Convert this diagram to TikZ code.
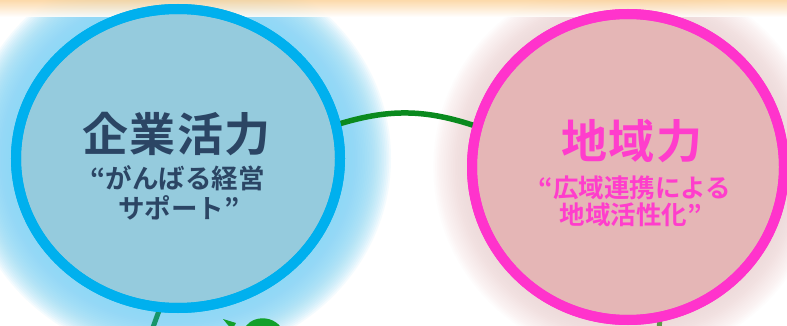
\documentclass[tikz,border=0pt]{standalone}
\usepackage{fontspec}
\usetikzlibrary{shapes.geometric}
\newfontfamily\jpfont{Noto Sans CJK JP}[BoldFont={Noto Sans CJK JP Bold}]
\newfontfamily\jptitle{Noto Sans CJK JP Bold}[LetterSpace=3]
\definecolor{lfill}{HTML}{95CBDD}
\definecolor{lring}{HTML}{00B0EE}
\definecolor{lglow}{HTML}{8AD8F6}
\definecolor{ltext}{HTML}{2B4564}
\definecolor{rfill}{HTML}{E5B6B6}
\definecolor{rring}{HTML}{FF33CC}
\definecolor{rglow}{HTML}{EFCFCF}
\definecolor{rtext}{HTML}{FF3DCC}
\definecolor{band}{HTML}{FCD6A2}
\definecolor{vine}{HTML}{0A8A1E}
\definecolor{stem}{HTML}{17956A}
\definecolor{leaf}{HTML}{12A02A}
\definecolor{stemr}{HTML}{5E9A48}
\tikzset{
  bubble/.style={ellipse, line width=10pt, inner sep=0pt, outer sep=0pt},
  title/.style={font=\jptitle\fontsize{46}{50}\selectfont, inner sep=0pt},
  sub/.style={font=\jpfont\bfseries\fontsize{26.5}{30}\selectfont, inner sep=0pt},
  subr/.style={font=\jpfont\bfseries\fontsize{25.5}{29}\selectfont, inner sep=0pt}
}
\begin{document}
\begin{tikzpicture}[x=1pt,y=-1pt]
\useasboundingbox (0,0) rectangle (787,326);
\clip (0,0) rectangle (787,326);
\fill[white] (0,0) rectangle (787,326);
% glows
\foreach \i in {1,...,30}
  \fill[lglow, opacity=0.085] (178,158.5) ellipse ({162+1.7*\i} and {150+1.7*\i});
\foreach \i in {1,...,22}
  \fill[rglow, opacity=0.055] (628,167) ellipse ({155+1.8*\i} and {153+1.8*\i});
% top band
\shade[top color=band, bottom color=white, opacity=0.9] (0,0) rectangle (787,17);
% stems and leaf
\coordinate (s1) at (160,308);
\coordinate (s2) at (152,330);
\draw[stem, line width=5pt] (s1) -- (s2);
\coordinate (s3) at (660,318);
\coordinate (s4) at (659,330);
\draw[stemr, line width=5pt] (s3) -- (s4);
\fill[leaf] (223,319) -- (236,323) -- (232,330) -- cycle;
\fill[leaf] (244,330) .. controls (248,317) and (272,312) .. (283,330) -- cycle;
% bubbles
\node[bubble, draw=lring, fill=lfill, minimum width=324pt, minimum height=299pt] (lc) at (178,158.5) {};
\node[bubble, draw=rring, fill=rfill, minimum width=312pt, minimum height=306pt] (rc) at (628,167) {};
% vine between bubbles
\draw[vine, line width=5.5pt] (lc.12) to[bend left=18] (rc.165);
% redraw rings on top of vine
\node[bubble, draw=lring, minimum width=324pt, minimum height=299pt] at (178,158.5) {};
\node[bubble, draw=rring, minimum width=312pt, minimum height=306pt] at (628,167) {};
% texts
\node[title, text=ltext] (lt) at (176.7,134) {企業活力};
\node[sub, text=ltext] (l2) at (177.5,178.5) {“がんばる経営};
\node[sub, text=ltext] (l3) at (179,207.5) {サポート”};
\node[title, text=rtext] (rt) at (632,141) {地域力};
\node[subr, text=rtext] (r2) at (635,187.5) {“広域連携による};
\node[subr, text=rtext] (r3) at (631,215) {地域活性化”};
\end{tikzpicture}
\end{document}
